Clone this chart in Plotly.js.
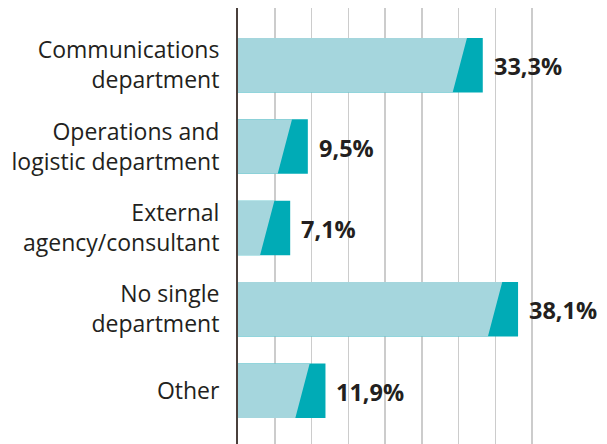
<!DOCTYPE html>
<html>
<head>
<meta charset="utf-8">
<script src="https://cdn.plot.ly/plotly-3.0.1.min.js"></script>
<style>
  html, body { margin: 0; padding: 0; background: #fff; }
  #chart { width: 607px; height: 444px; }
</style>
</head>
<body>
<div id="chart"></div>
<script>
// ---- data ----
const categories = [
  "Communications<br>department",
  "Operations and<br>logistic department",
  "External<br>agency/consultant",
  "No single<br>department",
  "Other"
];
const values = [33.3, 9.5, 7.1, 38.1, 11.9];
const gridTicks = [0, 5, 10, 15, 20, 25, 30, 35, 40];

// ---- style constants ----
const LIGHT = "#a5d6dd";
const DARK = "#00abb6";
const TEXT = "#231f20";
const BAR_W = 0.67;
const CAP_TOP = 2.15;    // dark cap width at the top edge (x units)
const CAP_BOTTOM = 4.1;  // dark cap width at the bottom edge (x units)

const pos = categories.map((_, i) => i);

// full bar in dark teal
const barTrace = {
  type: "bar",
  orientation: "h",
  x: values,
  y: pos,
  width: BAR_W,
  marker: { color: DARK, line: { width: 0 } },
  hoverinfo: "skip",
  showlegend: false
};

// light overlay with slanted right edge
const px = [], py = [];
values.forEach((v, i) => {
  const top = i - BAR_W / 2, bot = i + BAR_W / 2;
  px.push(0, v - CAP_TOP, v - CAP_BOTTOM, 0, 0, null);
  py.push(top, top, bot, bot, top, null);
});
const lightTrace = {
  type: "scatter",
  mode: "lines",
  x: px,
  y: py,
  fill: "toself",
  fillcolor: LIGHT,
  line: { width: 0, color: LIGHT },
  hoverinfo: "skip",
  showlegend: false
};

const annotations = values.map((v, i) => ({
  x: v,
  y: i,
  xref: "x",
  yref: "y",
  text: v.toFixed(1).replace(".", ",") + "%",
  showarrow: false,
  xanchor: "left",
  yanchor: "middle",
  xshift: 9,
  yshift: -1,
  font: { family: "Open Sans", size: 23.5, color: TEXT, weight: 700 }
}));

const layout = {
  width: 607,
  height: 444,
  margin: { l: 238, r: 0, t: 8, b: 0, pad: 0 },
  paper_bgcolor: "#ffffff",
  plot_bgcolor: "#ffffff",
  showlegend: false,
  xaxis: {
    range: [0, 50.2],
    tickvals: gridTicks,
    showticklabels: false,
    showgrid: true,
    gridcolor: "#cccccc",
    gridwidth: 1.5,
    zeroline: false,
    showline: false,
    fixedrange: true
  },
  yaxis: {
    range: [4.656, -0.704],
    tickvals: pos,
    ticktext: categories,
    showgrid: false,
    zeroline: false,
    showline: true,
    linecolor: "#4a403c",
    linewidth: 2,
    ticks: "",
    ticklabelstandoff: 12,
    tickfont: { family: "Open Sans", size: 23, color: TEXT },
    fixedrange: true
  },
  annotations: annotations
};

Plotly.newPlot("chart", [barTrace, lightTrace], layout, { displayModeBar: false, staticPlot: true });
</script>
</body>
</html>
